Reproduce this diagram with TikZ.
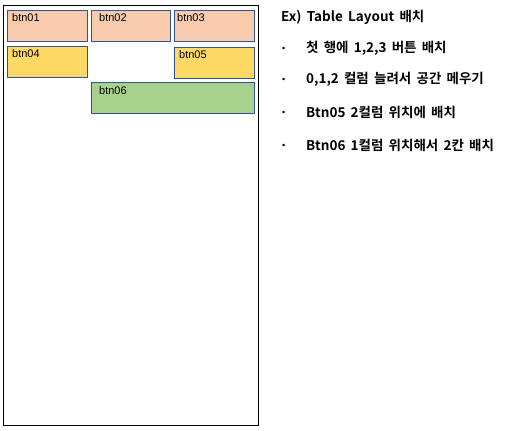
\documentclass[tikz,border=0pt]{standalone}
\usepackage{fontspec}
\setmainfont{Liberation Sans}
\newfontfamily\krb[WordSpace={1.7}]{Noto Sans CJK KR Bold}
\definecolor{peach}{HTML}{F8CBAD}
\definecolor{gold}{HTML}{FFD966}
\definecolor{lgreen}{HTML}{A9D18E}
\definecolor{bordb}{HTML}{2F5597}
\tikzset{
  btn/.style={draw=bordb, line width=0.9pt},
  lbl/.style={anchor=north west, inner sep=0pt, font=\fontsize{11}{13}\selectfont},
  rtxt/.style={anchor=west, inner sep=0pt, font=\krb\fontsize{13.5}{15}\selectfont},
  bul/.style={anchor=west, inner sep=0pt, font=\fontsize{9}{10}\selectfont},
}
\begin{document}
\begin{tikzpicture}[x=1pt,y=-1pt]
\useasboundingbox (0,0) rectangle (506,431);
\draw[line width=0.9pt] (3,5) rectangle (258.5,425);
\draw[btn, fill=peach] (7,10) rectangle (87,41);
\draw[btn, fill=peach] (91,10) rectangle (170,41);
\draw[btn, fill=peach] (174,10) rectangle (254,41);
\draw[btn, fill=gold] (7,46) rectangle (87,77);
\draw[btn, fill=gold] (174,47) rectangle (254,78);
\draw[btn, fill=lgreen] (91,82) rectangle (254,113);
\node[lbl] (l1) at (12,13) {btn01};
\node[lbl] (l2) at (99,13) {btn02};
\node[lbl] (l3) at (177,13) {btn03};
\node[lbl] (l4) at (12,49) {btn04};
\node[lbl] (l5) at (179,50) {btn05};
\node[lbl] (l6) at (99,86) {btn06};
\node[rtxt] (t0) at (281,17) {Ex) Table Layout 배치};
\foreach \yy/\tt [count=\i] in {48/{첫 행에 1,2,3 버튼 배치},79/{0,1,2 컬럼 늘려서 공간 메우기},112/{Btn05 2컬럼 위치에 배치},145/{Btn06 1컬럼 위치해서 2칸 배치}}{
  \node[bul] (b\i) at (282,\yy+1) {•};
  \node[rtxt] (t\i) at (306,\yy) {\tt};
}
\end{tikzpicture}
\end{document}
